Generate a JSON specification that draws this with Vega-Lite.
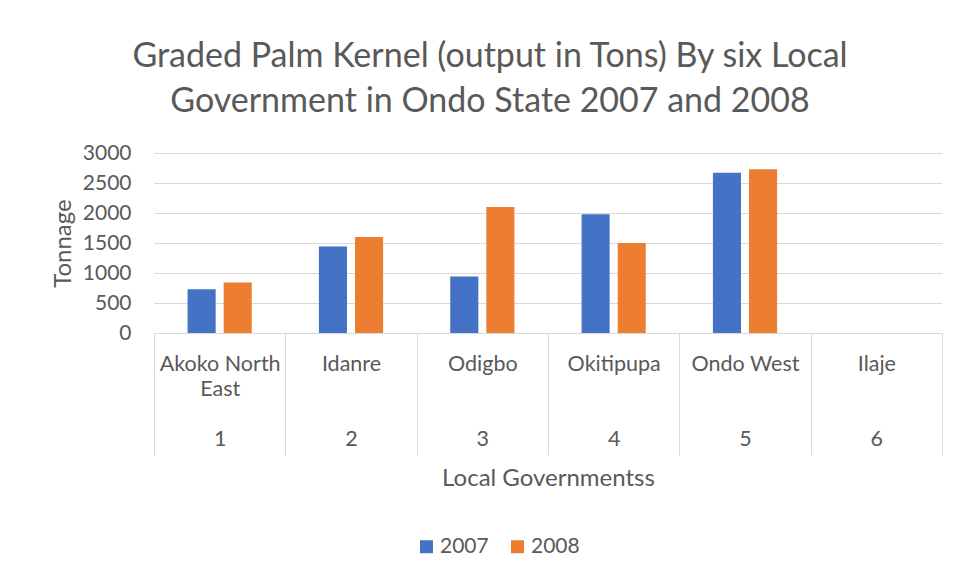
{
  "$schema": "https://vega.github.io/schema/vega-lite/v6.json",
  "width": 788,
  "height": 180,
  "autosize": {"type": "none"},
  "padding": {"left": 154, "top": 153, "right": 16, "bottom": 249},
  "background": "white",
  "title": {
    "text": ["Graded Palm Kernel (output in Tons) By six Local", "Government in Ondo State 2007 and 2008"],
    "font": "Lato",
    "fontSize": 34,
    "fontWeight": "normal",
    "color": "#595959",
    "lineHeight": 45,
    "anchor": "middle",
    "frame": "group",
    "dx": -58,
    "offset": 23
  },
  "data": {
    "values": [
      {"lga": "Akoko North East", "year": "2007", "tons": 730},
      {"lga": "Akoko North East", "year": "2008", "tons": 840},
      {"lga": "Idanre", "year": "2007", "tons": 1440},
      {"lga": "Idanre", "year": "2008", "tons": 1600},
      {"lga": "Odigbo", "year": "2007", "tons": 940},
      {"lga": "Odigbo", "year": "2008", "tons": 2100},
      {"lga": "Okitipupa", "year": "2007", "tons": 1980},
      {"lga": "Okitipupa", "year": "2008", "tons": 1500},
      {"lga": "Ondo West", "year": "2007", "tons": 2670},
      {"lga": "Ondo West", "year": "2008", "tons": 2730},
      {"lga": "Ilaje", "year": "2007", "tons": null},
      {"lga": "Ilaje", "year": "2008", "tons": null}
    ]
  },
  "mark": {"type": "bar"},
  "encoding": {
    "x": {
      "field": "lga",
      "type": "nominal",
      "scale": {
        "domain": ["Akoko North East", "Idanre", "Odigbo", "Okitipupa", "Ondo West", "Ilaje"],
        "paddingInner": 0,
        "paddingOuter": 0
      },
      "axis": {
        "title": "Local Governmentss",
        "labelAngle": 0,
        "tickBand": "extent",
        "tickSize": 122,
        "tickColor": "#d9d9d9",
        "domainColor": "#d9d9d9",
        "labelPadding": -102,
        "labelExpr": "datum.value == 'Akoko North East' ? ['Akoko North', 'East', '\u200b', '1'] : datum.value == 'Idanre' ? ['Idanre', '\u200b', '\u200b', '2'] : datum.value == 'Odigbo' ? ['Odigbo', '\u200b', '\u200b', '3'] : datum.value == 'Okitipupa' ? ['Okitipupa', '\u200b', '\u200b', '4'] : datum.value == 'Ondo West' ? ['Ondo West', '\u200b', '\u200b', '5'] : datum.value == 'Ilaje' ? ['Ilaje', '\u200b', '\u200b', '6'] : ''",
        "labelLineHeight": 25,
        "labelFont": "Lato",
        "labelFontSize": 21.5,
        "labelColor": "#595959",
        "labelOverlap": false,
        "titleFont": "Lato",
        "titleFontSize": 24,
        "titleFontWeight": "normal",
        "titleColor": "#595959",
        "titlePadding": 11
      }
    },
    "xOffset": {
      "field": "year",
      "type": "nominal",
      "scale": {"paddingInner": 0.222, "paddingOuter": 0.93}
    },
    "y": {
      "field": "tons",
      "type": "quantitative",
      "scale": {"domain": [0, 3000]},
      "axis": {
        "title": "Tonnage",
        "values": [0, 500, 1000, 1500, 2000, 2500, 3000],
        "format": "d",
        "domain": false,
        "ticks": false,
        "labelPadding": 23,
        "labelFont": "Lato",
        "labelFontSize": 21,
        "labelColor": "#595959",
        "gridColor": "#d9d9d9",
        "titleFont": "Lato",
        "titleFontSize": 24,
        "titleFontWeight": "normal",
        "titleColor": "#595959",
        "titlePadding": 7
      }
    },
    "color": {
      "field": "year",
      "type": "nominal",
      "scale": {"domain": ["2007", "2008"], "range": ["#4472C4", "#ED7D31"]},
      "legend": {
        "title": null,
        "orient": "none",
        "direction": "horizontal",
        "legendX": 262,
        "legendY": 383,
        "symbolType": "square",
        "symbolSize": 169,
        "symbolStrokeWidth": 0,
        "labelFont": "Lato",
        "labelFontSize": 21,
        "labelColor": "#595959",
        "columnPadding": 18,
        "labelOffset": 3
      }
    }
  },
  "config": {"view": {"stroke": null}}
}
